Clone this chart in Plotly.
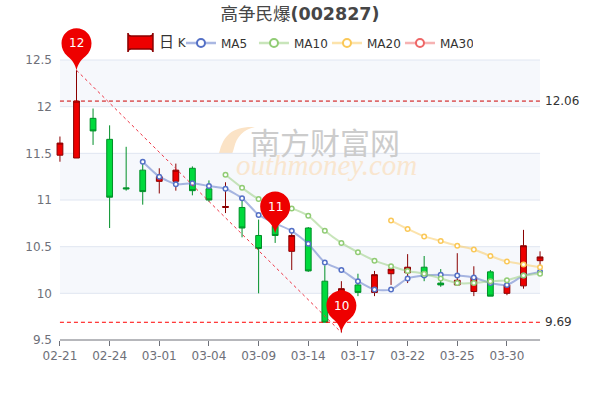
import plotly.graph_objects as go

dates = ["02-21","02-22","02-23","02-24","02-25","02-28","03-01","03-02","03-03","03-04",
         "03-07","03-08","03-09","03-10","03-11","03-14","03-15","03-16","03-17","03-18",
         "03-21","03-22","03-23","03-24","03-25","03-28","03-29","03-30","03-31","04-01"]
tick_dates = dates[::3]
opens  = [11.48,11.45,11.875,11.65,11.13,11.32,11.20,11.20,11.34,11.12,10.92,10.92,10.62,10.72,10.45,10.70,10.13,9.75,10.09,10.01,10.21,10.22,10.28,10.11,10.09,10.02,10.23,10.00,10.08,10.35]
closes = [11.61,12.06,11.74,11.03,11.12,11.09,11.25,11.32,11.10,11.00,10.93,10.70,10.48,10.62,10.62,10.24,9.69,10.05,10.01,10.20,10.26,10.28,10.18,10.09,10.14,10.17,9.97,10.09,10.51,10.39]
highs  = [11.68,12.39,11.98,11.80,11.57,11.40,11.34,11.39,11.36,11.21,11.19,11.00,10.79,10.90,10.69,10.71,10.30,10.13,10.21,10.24,10.29,10.42,10.40,10.26,10.43,10.29,10.25,10.10,10.68,10.45]
lows   = [11.41,11.45,11.59,10.70,11.10,10.95,11.07,11.10,11.05,10.98,10.86,10.60,10.00,10.54,10.25,10.23,9.69,9.58,9.97,9.97,10.09,10.11,10.13,10.07,10.09,9.97,9.97,9.98,10.05,10.30]
ma5  = [None]*5 + [11.41,11.25,11.17,11.18,11.15,11.12,11.02,10.84,10.75,10.67,10.53,10.33,10.25,10.13,10.04,10.04,10.16,10.19,10.20,10.19,10.17,10.11,10.09,10.19,10.23]
ma10 = [None]*10 + [11.27,11.13,11.01,10.96,10.91,10.83,10.67,10.54,10.44,10.35,10.29,10.24,10.21,10.16,10.11,10.11,10.13,10.14,10.19,10.21]
ma20 = [None]*20 + [10.78,10.69,10.61,10.56,10.51,10.47,10.40,10.34,10.31,10.28]
ma30 = [None]*30
ytick_vals = [9.5,10,10.5,11,11.5,12,12.5]
ytick_text = ["9.5","10","10.5","11","11.5","12","12.5"]
band_edges = [(10,10.5),(11,11.5),(12,12.5)]
max_value = 12.06
min_value = 9.69
pins = [("12","02-22",12.39),("11","03-10",10.64),("10","03-16",9.58)]

# pixel geometry of the plot frame
W,H = 600,400
LEFT,RIGHT,TOP,BOTTOM = 60,540,60,340
step = (RIGHT-LEFT)/29
pad = 0.42
pxu = (BOTTOM-TOP)/3
ytop = 12.5 + 35/pxu
ml, mr = LEFT-pad*step, W-RIGHT-pad*step
mt, mb = TOP-35, H-BOTTOM
pw, ph = W-ml-mr, H-mt-mb
px = lambda x: (x-ml)/pw
py = lambda y: 1-(y-mt)/ph

fig = go.Figure()
first, last = dates[0], dates[-1]
shapes = []
for a,b in band_edges:
    shapes.append(dict(type="rect",xref="x",yref="y",x0=first,x1=last,y0=a,y1=b,fillcolor="#f6f8fc",line_width=0,layer="below"))
for v in ytick_vals[1:]:
    shapes.append(dict(type="line",xref="x",yref="y",x0=first,x1=last,y0=v,y1=v,line=dict(color="#e0e6f1",width=1),layer="below"))
shapes.append(dict(type="line",xref="x",yref="paper",x0=first,x1=last,y0=0,y1=0,line=dict(color="#6e7079",width=1),layer="below"))
# watermark flame
flame = "M {} {} C {} {} {} {} {} {} C {} {} {} {} {} {} C {} {} {} {} {} {} C {} {} {} {} {} {} Z".format(
    *[round(f(v),4) for f,v in zip([px,py]*13,[255,127, 232,126,224,136,220,150, 216,163,212,172,202,175, 222,174,231,160,234,148, 237,136,243,130,255,127])])
shapes.append(dict(type="path",xref="paper",yref="paper",path=flame,fillcolor="#fbe3c6",line_width=0,layer="below"))
# legend icon for 日K
x0,x1,y0,y1 = px(128),px(153),py(36),py(49)
rx,ry = 3/pw,3/ph
icon = f"M {x0+rx} {y1} L {x1-rx} {y1} Q {x1} {y1} {x1} {y1-ry} L {x1} {y0+ry} Q {x1} {y0} {x1-rx} {y0} L {x0+rx} {y0} Q {x0} {y0} {x0} {y0+ry} L {x0} {y1-ry} Q {x0} {y1} {x0+rx} {y1} Z"
shapes.append(dict(type="path",xref="paper",yref="paper",path=icon,fillcolor="#ee0000",line=dict(color="#8a0000",width=1.5),layer="above"))
# pins (pixel offsets from the anchored data point, y upward)
pin = "M 0 0 C 1.5 6 4 10 9 14 C 13 17.5 15 22 15 27 C 15 35.3 8.3 42 0 42 C -8.3 42 -15 35.3 -15 27 C -15 22 -13 17.5 -9 14 C -4 10 -1.5 6 0 0 Z"
for label,x,y in pins:
    shapes.append(dict(type="path",xref="x",yref="y",xsizemode="pixel",ysizemode="pixel",xanchor=x,yanchor=y,path=pin,fillcolor="#ee0000",line_width=0,layer="above"))

fig.add_trace(go.Candlestick(x=dates,open=opens,high=highs,low=lows,close=closes,name="日K",showlegend=False,
    increasing=dict(fillcolor="#ee0000",line=dict(color="#8a0000",width=1)),
    decreasing=dict(fillcolor="#00da3c",line=dict(color="#008f28",width=1)),
    whiskerwidth=0,hoverinfo="skip"))
series = [("MA5",ma5,"#5470c6","rgba(84,112,198,0.5)"),("MA10",ma10,"#91cc75","rgba(145,204,117,0.5)"),
          ("MA20",ma20,"#fac858","rgba(250,200,88,0.5)"),("MA30",ma30,"#ee6666","rgba(238,102,102,0.5)")]
for name,vals,c,rgba in series:
    fig.add_trace(go.Scatter(x=dates,y=vals,name=name,mode="lines+markers",showlegend=False,
        line=dict(color=rgba,width=2,shape="spline",smoothing=0.5),
        marker=dict(size=4.5,color="white",line=dict(color=c,width=1.5))))
    # legend key, larger than the points on the chart
    fig.add_trace(go.Scatter(x=[None],y=[None],name=name,mode="lines+markers",
        line=dict(color=rgba,width=2.5),marker=dict(size=8,color="white",line=dict(color=c,width=2))))
fig.add_trace(go.Scatter(x=[first,last],y=[max_value,max_value],mode="lines",line=dict(color="#cc0000",width=1,dash="4px,3px"),showlegend=False))
fig.add_trace(go.Scatter(x=[first,last],y=[min_value,min_value],mode="lines",line=dict(color="#ff0000",width=1,dash="4px,3px"),showlegend=False))
fig.add_trace(go.Scatter(x=[pins[0][1],pins[2][1]],y=[pins[0][2],pins[2][2]],mode="lines",line=dict(color="#ee3344",width=1,dash="3px,3px"),showlegend=False))

ann = []
for label,x,y in pins:
    ann.append(dict(x=x,y=y,xref="x",yref="y",text=label,showarrow=False,yshift=27,font=dict(color="white",size=12,family="DejaVu Sans")))
for v in (max_value,min_value):
    ann.append(dict(x=last,y=v,xref="x",yref="y",text=f"{v:.2f}",showarrow=False,xanchor="left",xshift=3,font=dict(color="#333333",size=12,family="DejaVu Sans")))
ann.append(dict(x=px(157),y=py(42),xref="paper",yref="paper",xanchor="left",yanchor="middle",text='<span style="font-size:15px">日</span> K',showarrow=False,font=dict(color="#333333",size=12,family="DejaVu Sans, Noto Sans CJK SC")))
ann.append(dict(x=px(325),y=py(141),xref="paper",yref="paper",xanchor="center",yanchor="middle",text="南方财富网",showarrow=False,font=dict(color="#cccccc",size=30,family="Noto Sans CJK SC")))
ann.append(dict(x=px(234),y=py(165),xref="paper",yref="paper",xanchor="left",yanchor="middle",text="<i>outhmoney.com</i>",showarrow=False,font=dict(color="#f9e6cf",size=29,family="Liberation Serif")))

fig.update_layout(width=W,height=H,autosize=False,paper_bgcolor="white",plot_bgcolor="white",
    margin=dict(l=ml,r=mr,t=mt,b=mb,pad=0),boxgap=0.5,shapes=shapes,annotations=ann,
    font=dict(family="DejaVu Sans, Noto Sans CJK SC",color="#333333",size=12),
    title=dict(text="高争民爆<b>(002827)</b>",x=0.5,xanchor="center",y=1-13.5/H,yanchor="middle",xref="paper",
               font=dict(size=17.5,color="#464646",family="DejaVu Sans, Noto Sans CJK SC")),
    legend=dict(orientation="h",x=px(181),y=py(43),xanchor="left",yanchor="middle",entrywidth=28,entrywidthmode="pixels",
                itemwidth=30,bgcolor="rgba(0,0,0,0)",font=dict(size=12,color="#333333"),itemclick=False,itemdoubleclick=False),
    xaxis=dict(type="category",categoryorder="array",categoryarray=dates,range=[-pad,29+pad],rangeslider=dict(visible=False),
               tickmode="array",tickvals=tick_dates,ticktext=tick_dates,ticks="outside",ticklen=5,tickcolor="#6e7079",tickwidth=1,
               tickfont=dict(color="#6e7079",size=12),showgrid=False,showline=False,zeroline=False,tickangle=0),
    yaxis=dict(range=[9.5,ytop],tickmode="array",tickvals=ytick_vals,ticktext=ytick_text,showgrid=False,showline=False,zeroline=False,
               tickfont=dict(color="#6e7079",size=12),ticks=""),
    hovermode=False)
fig.write_html("out.html",config=dict(displayModeBar=False),post_script="document.body.style.margin='0';")
